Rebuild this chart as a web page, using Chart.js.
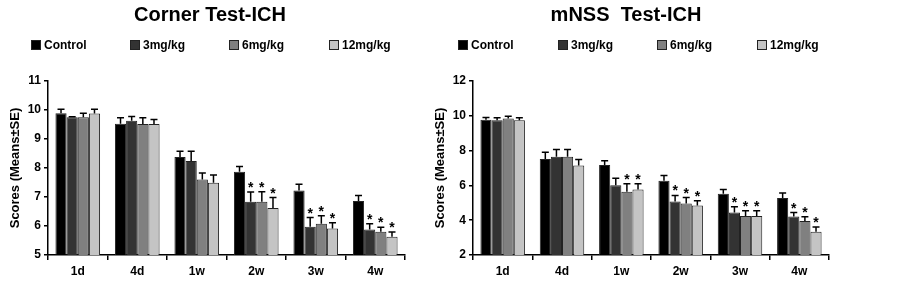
<!DOCTYPE html>
<html>
<head>
<meta charset="utf-8">
<script src="https://cdn.jsdelivr.net/npm/chart.js@4.4.0/dist/chart.umd.min.js"></script>
<style>
  body { margin: 0; background: #fff; font-family: "Liberation Sans", Arial, sans-serif; }
  #wrap { position: relative; width: 903px; height: 284px; overflow: hidden; }
  canvas { position: absolute; top: 0; }
  .title { position: absolute; top: 3px; font-weight: bold; font-size: 20px; white-space: pre; transform: translateX(-50%); color: #000; }
  .leg { position: absolute; top: 38px; font-weight: bold; font-size: 12px; color: #000; white-space: nowrap; }
  .leg span.box { display: inline-block; width: 8px; height: 8px; border: 1px solid #222; margin-right: 3px; vertical-align: -1px; }
</style>
</head>
<body>
<div id="wrap">
  <canvas id="corner" width="425" height="284" style="left:0"></canvas>
  <canvas id="mnss" width="478" height="284" style="left:425px"></canvas>
  <div class="title" style="left:210px">Corner Test-ICH</div>
  <div class="title" style="left:626px">mNSS  Test-ICH</div>
  <div id="legLeft"></div>
  <div id="legRight"></div>
</div>
<script>
const categories = ['1d', '4d', '1w', '2w', '3w', '4w'];
const groups = ['Control', '3mg/kg', '6mg/kg', '12mg/kg'];
const groupColors = ['#000000', '#333333', '#808080', '#c4c4c4'];

// Corner test
const cornerControl = [9.89, 9.53, 8.38, 7.87, 7.22, 6.86];
const corner3mg = [9.75, 9.63, 8.24, 6.84, 5.97, 5.88];
const corner6mg = [9.75, 9.52, 7.6, 6.84, 6.08, 5.8];
const corner12mg = [9.88, 9.52, 7.49, 6.62, 5.91, 5.63];
const cornerErrControl = [0.14, 0.2, 0.2, 0.18, 0.22, 0.19];
const cornerErr3mg = [0.02, 0.15, 0.34, 0.33, 0.32, 0.2];
const cornerErr6mg = [0.14, 0.21, 0.23, 0.34, 0.27, 0.16];
const cornerErr12mg = [0.15, 0.15, 0.27, 0.36, 0.2, 0.16];
const cornerStars3mg = [false, false, false, true, true, true];
const cornerStars6mg = [false, false, false, true, true, true];
const cornerStars12mg = [false, false, false, true, true, true];
const cornerTicks = [5, 6, 7, 8, 9, 10, 11];

// mNSS test
const mnssControl = [9.77, 7.52, 7.17, 6.27, 5.52, 5.28];
const mnss3mg = [9.74, 7.65, 6.01, 5.08, 4.44, 4.21];
const mnss6mg = [9.85, 7.65, 5.64, 4.96, 4.24, 3.95];
const mnss12mg = [9.75, 7.15, 5.77, 4.85, 4.24, 3.33];
const mnssErrControl = [0.13, 0.38, 0.25, 0.3, 0.25, 0.29];
const mnssErr3mg = [0.15, 0.42, 0.4, 0.34, 0.33, 0.23];
const mnssErr6mg = [0.12, 0.42, 0.45, 0.34, 0.3, 0.25];
const mnssErr12mg = [0.14, 0.34, 0.33, 0.27, 0.3, 0.28];
const mnssStars3mg = [false, false, false, true, true, true];
const mnssStars6mg = [false, false, true, true, true, true];
const mnssStars12mg = [false, false, true, true, true, true];
const mnssTicks = [2, 4, 6, 8, 10, 12];

function buildLegend(id, xs) {
  const holder = document.getElementById(id);
  groups.forEach((g, i) => {
    const d = document.createElement('div');
    d.className = 'leg';
    d.style.left = xs[i] + 'px';
    d.innerHTML = '<span class="box" style="background:' + groupColors[i] + '"></span>' + g;
    holder.appendChild(d);
  });
}
buildLegend('legLeft', [31, 130, 229, 329]);
buildLegend('legRight', [458, 558, 657, 757]);

const errorBars = {
  id: 'errorBars',
  afterDatasetsDraw(chart) {
    const ctx = chart.ctx;
    const yScale = chart.scales.y;
    ctx.save();
    chart.data.datasets.forEach((ds, di) => {
      const meta = chart.getDatasetMeta(di);
      meta.data.forEach((bar, i) => {
        const top = yScale.getPixelForValue(ds.data[i] + ds.errors[i]);
        ctx.strokeStyle = '#000';
        ctx.lineWidth = 1.5;
        ctx.beginPath();
        ctx.moveTo(bar.x, bar.y);
        ctx.lineTo(bar.x, top);
        ctx.moveTo(bar.x - 3.5, top);
        ctx.lineTo(bar.x + 3.5, top);
        ctx.stroke();
        if (ds.stars && ds.stars[i]) {
          ctx.fillStyle = '#000';
          ctx.font = 'bold 14px "Liberation Sans", Arial';
          ctx.textAlign = 'center';
          ctx.textBaseline = 'alphabetic';
          ctx.fillText('*', bar.x, top);
        }
      });
    });
    ctx.restore();
  }
};

function makeChart(id, series, errs, stars, ticks, padRight) {
  const datasets = series.map((s, i) => ({
    label: groups[i],
    data: s,
    errors: errs[i],
    stars: stars[i],
    backgroundColor: groupColors[i],
    borderColor: '#222',
    borderWidth: 1,
    categoryPercentage: 0.75,
    barPercentage: 1.0
  }));
  return new Chart(document.getElementById(id), {
    type: 'bar',
    data: { labels: categories, datasets: datasets },
    options: {
      responsive: false,
      animation: false,
      layout: { padding: { top: 81, right: padRight, left: 0, bottom: 0 } },
      plugins: { legend: { display: false }, title: { display: false }, tooltip: { enabled: false } },
      scales: {
        x: {
          grid: { display: true, drawOnChartArea: false, drawTicks: true, tickLength: 5, color: '#000', lineWidth: 1.5, offset: true },
          border: { display: true, color: '#000', width: 1.5 },
          ticks: { color: '#000', font: { family: '"Liberation Sans", Arial', weight: 'bold', size: 12 }, padding: 4 },
          afterFit(scale) { scale.height = 29; }
        },
        y: {
          min: ticks[0],
          max: ticks[ticks.length - 1],
          afterBuildTicks(scale) { scale.ticks = ticks.map(v => ({ value: v })); },
          grid: { display: true, drawOnChartArea: false, drawTicks: true, tickLength: 4, color: '#000', lineWidth: 1.5 },
          border: { display: true, color: '#000', width: 1.5 },
          ticks: { color: '#000', font: { family: '"Liberation Sans", Arial', weight: 'bold', size: 12 }, padding: 3 },
          title: { display: true, text: 'Scores (Means±SE)', color: '#000', font: { family: '"Liberation Sans", Arial', weight: 'bold', size: 13 }, padding: { top: 8, bottom: 0 } },
          afterFit(scale) { scale.width = 48; }
        }
      }
    },
    plugins: [errorBars]
  });
}

makeChart('corner',
  [cornerControl, corner3mg, corner6mg, corner12mg],
  [cornerErrControl, cornerErr3mg, cornerErr6mg, cornerErr12mg],
  [null, cornerStars3mg, cornerStars6mg, cornerStars12mg],
  cornerTicks, 20);

makeChart('mnss',
  [mnssControl, mnss3mg, mnss6mg, mnss12mg],
  [mnssErrControl, mnssErr3mg, mnssErr6mg, mnssErr12mg],
  [null, mnssStars3mg, mnssStars6mg, mnssStars12mg],
  mnssTicks, 74);
</script>
</body>
</html>
